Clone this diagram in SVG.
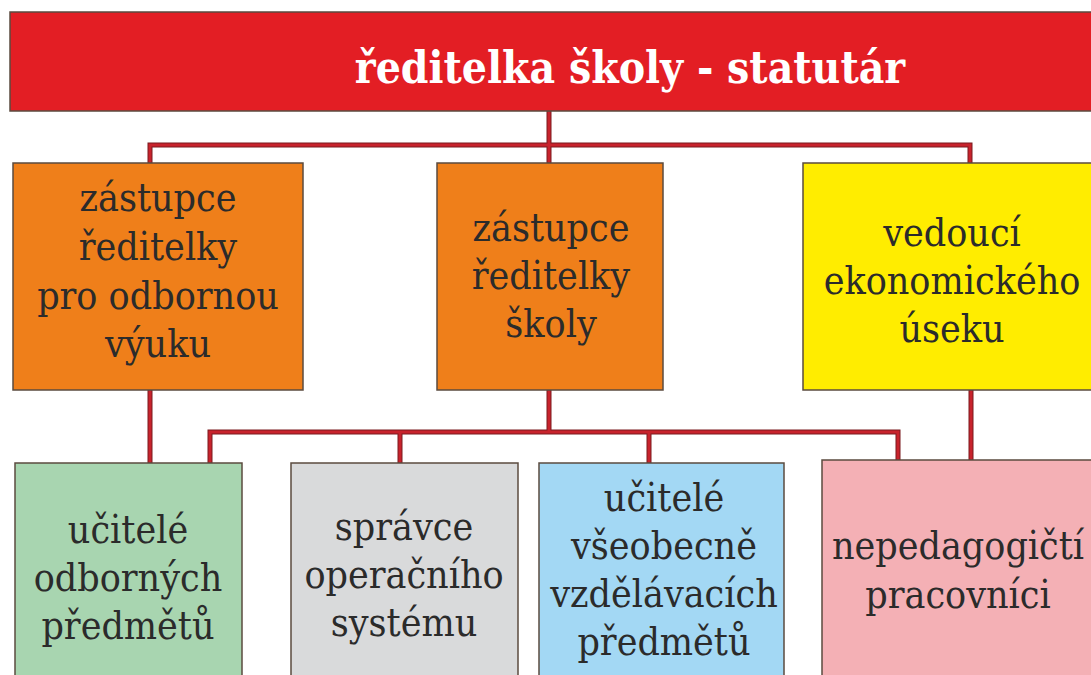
<svg xmlns="http://www.w3.org/2000/svg" width="1091" height="675" viewBox="0 0 1091 675">
<style>
.box{stroke:#5b4b3f;stroke-width:1.5}
.t{font-family:"DejaVu Serif Condensed","DejaVu Serif","Liberation Serif",serif;font-stretch:condensed;font-size:39px;fill:#2b2b2b;text-anchor:middle}
.title{font-family:"DejaVu Serif Condensed","DejaVu Serif","Liberation Serif",serif;font-stretch:condensed;font-weight:bold;font-size:44px;fill:#ffffff;text-anchor:middle}
.co{fill:none;stroke:#7a1b1f;stroke-width:5;stroke-linejoin:miter}
.ci{fill:none;stroke:#c8232c;stroke-width:3;stroke-linejoin:miter}
</style>
<rect width="1091" height="675" fill="#ffffff"/>
<g id="connectors">
<path class="co" d="M549 111V145M150 163V145H970V163M549 145V163M150 390V463M549 390V432M210 463V432H898V460M400 432V463M649 432V463M971 390V460"/>
<path class="ci" d="M549 111V145M150 163V145H970V163M549 145V163M150 390V463M549 390V432M210 463V432H898V460M400 432V463M649 432V463M971 390V460"/>
</g>
<g id="n-reditelka">
<rect class="box" x="10" y="12" width="1090" height="99" fill="#e31e24"/>
<text class="title" x="630" y="83">ředitelka školy - statutár</text>
</g>
<g id="n-zastupce-odborna">
<rect class="box" x="13" y="163" width="290" height="227" fill="#ef7f1a"/>
<text class="t" x="158" y="211">zástupce</text>
<text class="t" x="158" y="260">ředitelky</text>
<text class="t" x="158" y="309">pro odbornou</text>
<text class="t" x="158" y="357">výuku</text>
</g>
<g id="n-zastupce-skoly">
<rect class="box" x="437" y="163" width="226" height="227" fill="#ef7f1a"/>
<text class="t" x="551" y="241">zástupce</text>
<text class="t" x="551" y="289">ředitelky</text>
<text class="t" x="551" y="337">školy</text>
</g>
<g id="n-vedouci">
<rect class="box" x="803" y="163" width="300" height="227" fill="#ffed00"/>
<text class="t" x="952" y="246">vedoucí</text>
<text class="t" x="952" y="294">ekonomického</text>
<text class="t" x="952" y="342">úseku</text>
</g>
<g id="n-ucitele-odborne">
<rect class="box" x="15" y="463" width="227" height="230" fill="#a8d5b0"/>
<text class="t" x="128" y="543">učitelé</text>
<text class="t" x="128" y="591">odborných</text>
<text class="t" x="128" y="639">předmětů</text>
</g>
<g id="n-spravce">
<rect class="box" x="291" y="463" width="227" height="230" fill="#d9dadb"/>
<text class="t" x="404" y="540">správce</text>
<text class="t" x="404" y="588">operačního</text>
<text class="t" x="404" y="636">systému</text>
</g>
<g id="n-ucitele-vseobecne">
<rect class="box" x="539" y="463" width="245" height="230" fill="#a3d8f4"/>
<text class="t" x="664" y="511">učitelé</text>
<text class="t" x="664" y="559">všeobecně</text>
<text class="t" x="664" y="607">vzdělávacích</text>
<text class="t" x="664" y="655">předmětů</text>
</g>
<g id="n-nepedagogicti">
<rect class="box" x="822" y="460" width="280" height="233" fill="#f4b0b5"/>
<text class="t" x="958" y="559">nepedagogičtí</text>
<text class="t" x="958" y="608">pracovníci</text>
</g>
</svg>
